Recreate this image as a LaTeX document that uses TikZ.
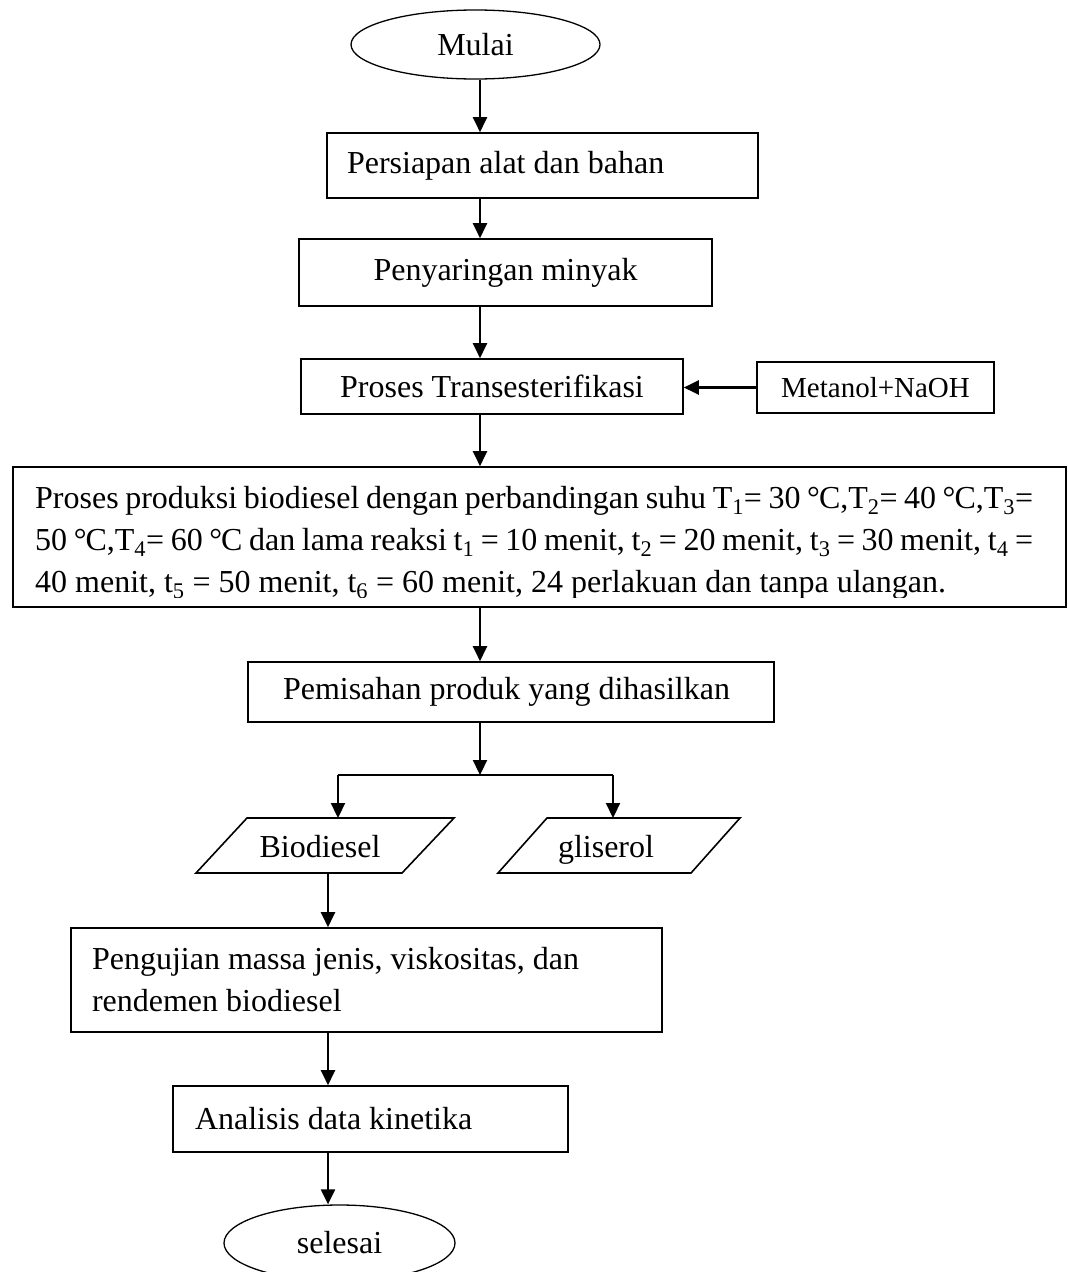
\documentclass[tikz,border=0pt]{standalone}
\usepackage{fontspec}
\setmainfont{Liberation Serif}
\usetikzlibrary{arrows.meta,shapes.geometric,calc}
\newcommand{\dgC}{°\kern-1pt C}
\begin{document}
\begin{tikzpicture}[x=1pt,y=-1pt,
  txt/.style={font=\fontsize{32}{42}\selectfont},
  box/.style={draw, line width=1.6pt, inner sep=0pt, txt},
  lbox/.style={box, align=flush left},
  oval/.style={draw, ellipse, line width=1.3pt, inner sep=0pt, txt},
  pline/.style={line width=1.6pt, line join=miter},
  ln/.style={line width=2.2pt},
  arr/.style={line width=2.2pt, -{Triangle[length=15pt,width=14pt]}}]
\useasboundingbox (0,0) rectangle (1068,1272);
\fill[white] (0,0) rectangle (1068,1272);
\begin{scope}
\clip (0,0) rectangle (1068,1272);
% columns
\coordinate (col) at (480,0);
\coordinate (lcol) at (338,0);
\coordinate (rcol) at (613,0);
\coordinate (bcol) at (328,0);
% nodes
\node[oval, minimum width=249, minimum height=69] (mulai) at (475.5,44.5) {Mulai};
\node[lbox, minimum width=431, minimum height=65, text width=391] (persiapan) at (542.5,165.5) {Persiapan alat dan bahan};
\node[box, minimum width=413, minimum height=67] (saring) at (505.5,272.5) {Penyaringan minyak};
\node[box, minimum width=382, minimum height=55] (trans) at (492,386.5) {Proses Transesterifikasi};
\node[box, minimum width=237, minimum height=51, font=\fontsize{29}{35}\selectfont] (metanol) at (875.5,387.5) {Metanol+NaOH};
\node[box, minimum width=1053, minimum height=140] (prod) at (539.5,537) {};
\begin{scope}
\clip (0,0) rectangle (1068,597);
\node[anchor=north west, inner sep=0pt, align=flush left, txt] (prodtext) at (35,486)
 {\makebox[998pt][s]{Proses produksi biodiesel dengan perbandingan suhu T\textsubscript{1}= 30 \dgC,T\textsubscript{2}= 40 \dgC,T\textsubscript{3}=}\\
  \makebox[998pt][s]{50 \dgC,T\textsubscript{4}= 60 \dgC{} dan lama reaksi t\textsubscript{1} = 10 menit, t\textsubscript{2} = 20 menit, t\textsubscript{3} = 30 menit, t\textsubscript{4} =}\\
  40 menit, t\textsubscript{5} = 50 menit, t\textsubscript{6} = 60 menit, 24 perlakuan dan tanpa ulangan.};
\end{scope}
\node[lbox, minimum width=526, minimum height=60, text width=456] (pisah) at (511,692) {Pemisahan produk yang dihasilkan};
\coordinate (split) at (480,775);
% parallelograms
\node[inner sep=0pt, txt, anchor=base] (bio) at (320,857) {Biodiesel};
\coordinate (bioBL) at ($(bio.base)+(-124,16)$);
\coordinate (bioBR) at ($(bio.base)+(82,16)$);
\coordinate (bioTR) at ($(bio.base)+(134,-39)$);
\coordinate (bioTL) at ($(bio.base)+(-73,-39)$);
\draw[pline] (bioBL) -- (bioBR) -- (bioTR) -- (bioTL) -- cycle;
\node[inner sep=0pt, txt, anchor=base] (gli) at (606,857) {gliserol};
\coordinate (gliBL) at ($(gli.base)+(-108,16)$);
\coordinate (gliBR) at ($(gli.base)+(85,16)$);
\coordinate (gliTR) at ($(gli.base)+(134,-39)$);
\coordinate (gliTL) at ($(gli.base)+(-59,-39)$);
\draw[pline] (gliBL) -- (gliBR) -- (gliTR) -- (gliTL) -- cycle;
\node[lbox, minimum width=591, minimum height=104, text width=549] (uji) at (366.5,980) {Pengujian massa jenis, viskositas, dan\\rendemen biodiesel};
\node[lbox, minimum width=395, minimum height=66, text width=351] (analisis) at (370.5,1119) {Analisis data kinetika};
\node[oval, minimum width=231, minimum height=76] (selesai) at (339.5,1243) {selesai};
% connectors
\draw[arr] (mulai.south -| col) -- (persiapan.north -| col);
\draw[arr] (persiapan.south -| col) -- (saring.north -| col);
\draw[arr] (saring.south -| col) -- (trans.north -| col);
\draw[arr] (metanol.west) -- (metanol.west -| trans.east);
\draw[arr] (trans.south -| col) -- (prod.north -| col);
\draw[arr] (prod.south -| col) -- (pisah.north -| col);
\draw[arr] (pisah.south -| col) -- (split);
\draw[ln] (split -| lcol) -- (split -| rcol);
\draw[arr] (split -| lcol) -- (bioTL -| lcol);
\draw[arr] (split -| rcol) -- (gliTL -| rcol);
\draw[arr] (bioBL -| bcol) -- (uji.north -| bcol);
\draw[arr] (uji.south -| bcol) -- (analisis.north -| bcol);
\draw[arr] (analisis.south -| bcol) -- (selesai.north -| bcol);
\end{scope}
\end{tikzpicture}
\end{document}
